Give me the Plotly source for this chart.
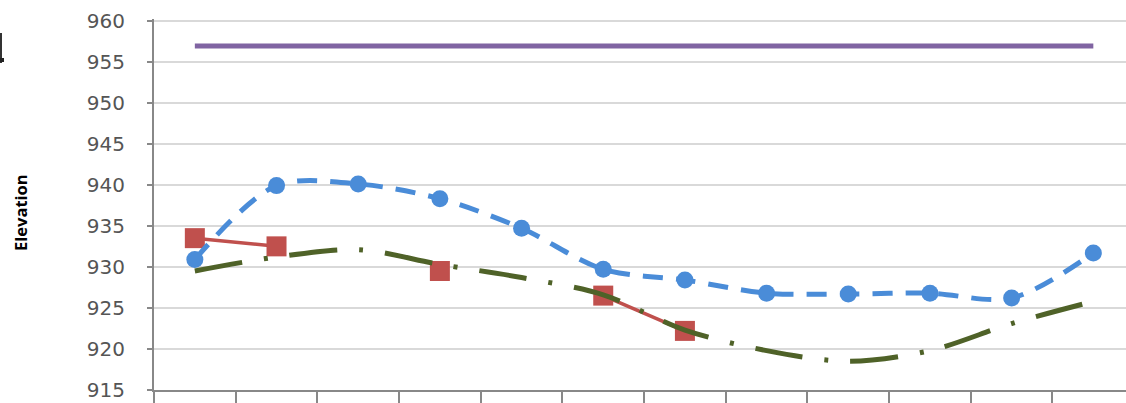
import plotly.graph_objects as go

categories = ["Jan", "Feb", "Mar", "Apr", "May", "Jun", "Jul", "Aug", "Sep", "Oct", "Nov", "Dec"]
blue_vals = [930.9, 939.9, 940.1, 938.3, 934.7, 929.7, 928.4, 926.8, 926.7, 926.8, 926.2, 931.7]
red_vals = [933.5, 932.5, None, 929.5, None, 926.5, 922.2, None, None, None, None, None]
green_vals = [929.5, 931.2, 932.1, 930.3, 928.7, 926.6, 922.3, 919.8, 918.5, 919.8, 923.1, 925.8]
purple_vals = [956.9] * 12
y_ticks = [915, 920, 925, 930, 935, 940, 945, 950, 955, 960]

W, H = 1126, 403
ML, MT, MB, MR = 154, 19, 13, 0

fig = go.Figure()
fig.add_trace(go.Scatter(
    x=categories, y=red_vals, mode="lines+markers", connectgaps=False,
    line=dict(color="#C0504D", width=3.5),
    marker=dict(symbol="square", size=20, color="#C0504D"),
    showlegend=False))
fig.add_trace(go.Scatter(
    x=categories, y=blue_vals, mode="lines+markers",
    line=dict(color="#4A8CD8", width=5, dash="20px,13px", shape="spline", smoothing=0.9),
    marker=dict(symbol="circle", size=17, color="#4A8CD8"),
    showlegend=False))
fig.add_trace(go.Scatter(
    x=categories, y=green_vals, mode="lines",
    line=dict(color="#4F6228", width=5, dash="48px,22px,4px,22px", shape="spline", smoothing=0.9),
    showlegend=False))
fig.add_trace(go.Scatter(
    x=categories, y=purple_vals, mode="lines",
    line=dict(color="#8064A2", width=5),
    showlegend=False))

plot_w = W - ML - MR
plot_h = H - MT - MB


def px_x(p):
    return (p - ML) / plot_w


def px_y(p):
    return (H - MB - p) / plot_h


fig.update_layout(
    width=W, height=H,
    margin=dict(l=ML, r=MR, t=MT, b=MB, autoexpand=False),
    paper_bgcolor="white", plot_bgcolor="white",
    xaxis=dict(
        type="category", range=[-0.5, 11.4],
        showgrid=False, zeroline=False,
        showline=True, linecolor="#888888", linewidth=2,
        ticks="outside", tickson="boundaries", ticklen=18, tickwidth=2, tickcolor="#888888",
        showticklabels=False, automargin=False),
    yaxis=dict(
        range=[915, 960.2], tickvals=y_ticks,
        showgrid=True, gridcolor="#D9D9D9", gridwidth=1.5, zeroline=False,
        showline=True, linecolor="#888888", linewidth=2,
        ticks="outside", ticklen=5, tickwidth=1.5, tickcolor="#888888",
        tickfont=dict(family="DejaVu Sans", size=20, color="#555555"),
        ticklabelstandoff=18, ticklabeloverflow="allow", automargin=False),
    annotations=[dict(
        text="<b>Elevation</b>", textangle=-90,
        xref="paper", yref="paper",
        x=px_x(20), y=px_y(213),
        xanchor="center", yanchor="middle", showarrow=False,
        font=dict(family="Open Sans", size=16.5, color="#000000"))],
    shapes=[
        dict(type="line", xref="paper", yref="paper",
             x0=px_x(1), x1=px_x(1), y0=px_y(33), y1=px_y(63),
             line=dict(color="#333333", width=2)),
        dict(type="line", xref="paper", yref="paper",
             x0=px_x(0), x1=px_x(4), y0=px_y(60), y1=px_y(60),
             line=dict(color="#222222", width=4)),
    ],
)

fig.write_html("out.html", config={"displayModeBar": False},
               post_script="document.body.style.margin='0';")
